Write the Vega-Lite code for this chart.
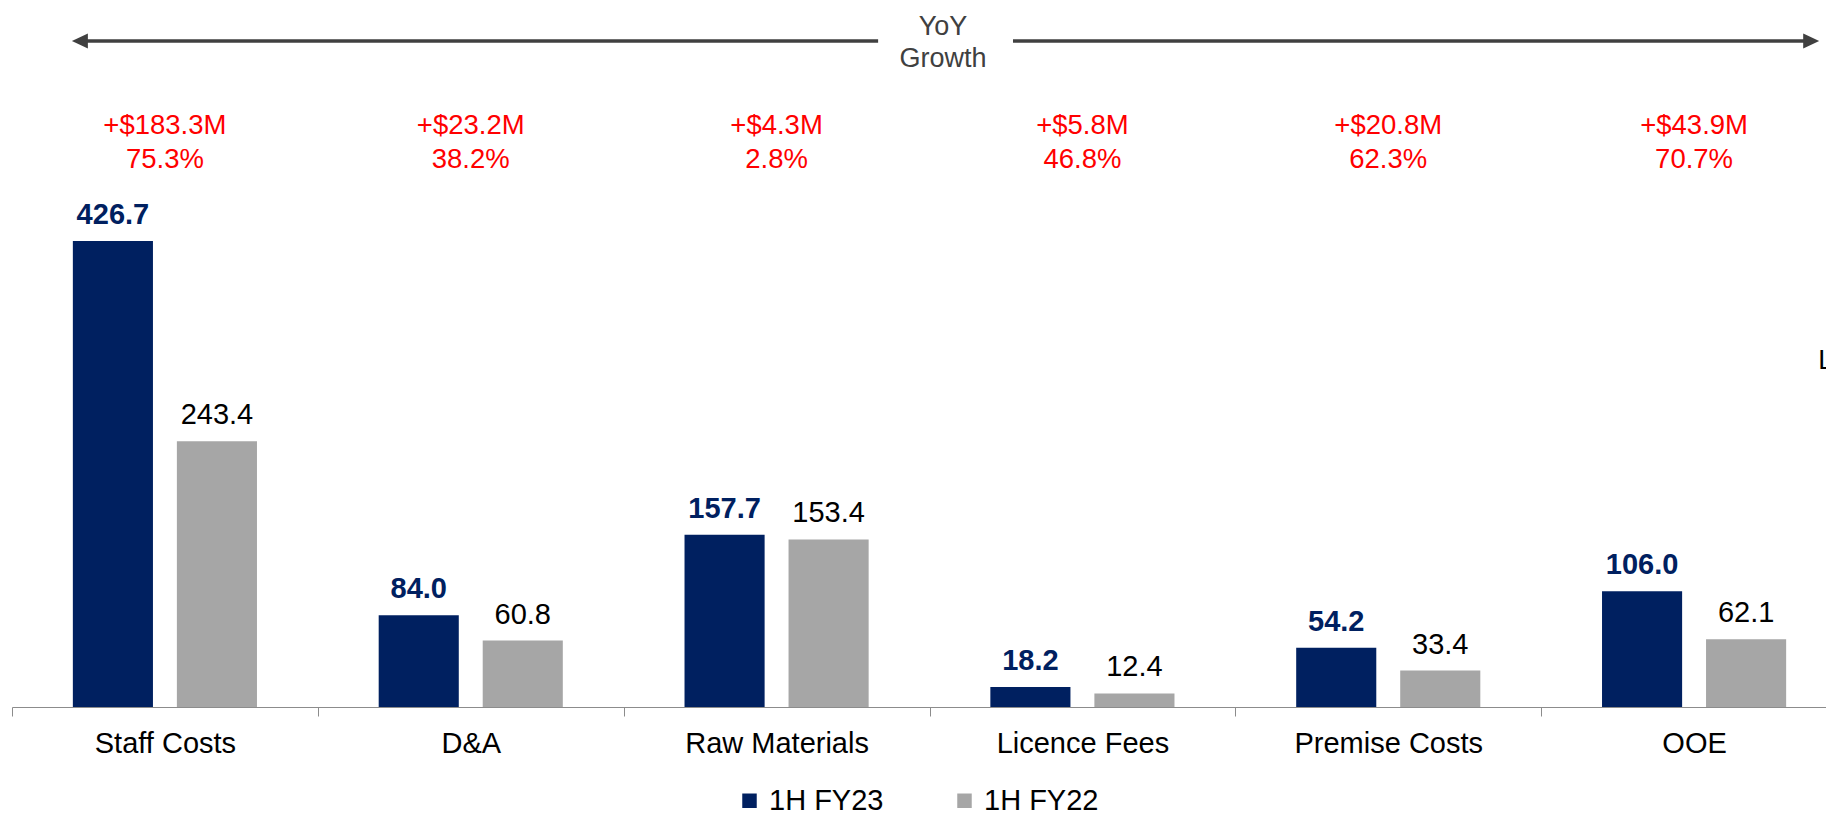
{
  "$schema": "https://vega.github.io/schema/vega-lite/v6.json",
  "width": 1814,
  "height": 707,
  "autosize": {"type": "none"},
  "padding": {"left": 12, "top": 0, "right": 0, "bottom": 108},
  "background": "#ffffff",
  "config": {
    "view": {"stroke": null},
    "font": "Liberation Sans",
    "text": {"font": "Liberation Sans"}
  },
  "datasets": {
    "bars": [
      {"category": "Staff Costs", "period": "1H FY23", "value": 426.7},
      {"category": "Staff Costs", "period": "1H FY22", "value": 243.4},
      {"category": "D&A", "period": "1H FY23", "value": 84.0},
      {"category": "D&A", "period": "1H FY22", "value": 60.8},
      {"category": "Raw Materials", "period": "1H FY23", "value": 157.7},
      {"category": "Raw Materials", "period": "1H FY22", "value": 153.4},
      {"category": "Licence Fees", "period": "1H FY23", "value": 18.2},
      {"category": "Licence Fees", "period": "1H FY22", "value": 12.4},
      {"category": "Premise Costs", "period": "1H FY23", "value": 54.2},
      {"category": "Premise Costs", "period": "1H FY22", "value": 33.4},
      {"category": "OOE", "period": "1H FY23", "value": 106.0},
      {"category": "OOE", "period": "1H FY22", "value": 62.1}
    ],
    "growth": [
      {"category": "Staff Costs", "abs": "+$183.3M", "pct": "75.3%"},
      {"category": "D&A", "abs": "+$23.2M", "pct": "38.2%"},
      {"category": "Raw Materials", "abs": "+$4.3M", "pct": "2.8%"},
      {"category": "Licence Fees", "abs": "+$5.8M", "pct": "46.8%"},
      {"category": "Premise Costs", "abs": "+$20.8M", "pct": "62.3%"},
      {"category": "OOE", "abs": "+$43.9M", "pct": "70.7%"}
    ]
  },
  "layer": [
    {
      "layer": [
        {
          "data": {"name": "bars"},
          "mark": {"type": "bar"},
          "encoding": {
            "x": {
              "field": "category", "type": "nominal",
              "sort": ["Staff Costs", "D&A", "Raw Materials", "Licence Fees", "Premise Costs", "OOE"],
              "scale": {"range": [0, 1835], "paddingInner": 0, "paddingOuter": 0},
              "axis": {
                "title": null, "tickBand": "extent", "labelAngle": 0,
                "labelFontSize": 29, "labelFont": "Liberation Sans", "labelColor": "#000000",
                "labelLimit": 0,
                "tickSize": 9, "tickColor": "#8c8c8c", "domainColor": "#8c8c8c",
                "labelPadding": 13, "grid": false
              }
            },
            "xOffset": {
              "field": "period", "type": "nominal", "sort": ["1H FY23", "1H FY22"],
              "scale": {"paddingInner": 0.23, "paddingOuter": 0.585}
            },
            "y": {
              "field": "value", "type": "quantitative",
              "scale": {"domain": [0, 647.4], "nice": false, "zero": true},
              "axis": null
            },
            "color": {
              "field": "period", "type": "nominal",
              "scale": {"domain": ["1H FY23", "1H FY22"], "range": ["#002060", "#A6A6A6"]},
              "legend": {
                "title": null, "orient": "none", "direction": "horizontal",
                "legendX": 723, "legendY": 786,
                "symbolType": "square", "symbolSize": 210, "symbolStrokeWidth": 0,
                "labelFontSize": 29, "labelFont": "Liberation Sans", "labelColor": "#000000",
                "labelOffset": 5, "columnPadding": 66, "padding": 0, "labelLimit": 0
              }
            }
          }
        },
        {
          "data": {"name": "bars"},
          "transform": [{"filter": "datum.period === '1H FY23'"}],
          "mark": {"type": "text", "fontSize": 29, "fontWeight": "bold", "color": "#002060", "baseline": "alphabetic", "dy": -17},
          "encoding": {
            "x": {"field": "category", "type": "nominal", "sort": ["Staff Costs", "D&A", "Raw Materials", "Licence Fees", "Premise Costs", "OOE"]},
            "xOffset": {"field": "period", "type": "nominal", "sort": ["1H FY23", "1H FY22"]},
            "y": {"field": "value", "type": "quantitative"},
            "text": {"field": "value", "type": "quantitative", "format": ".1f"}
          }
        },
        {
          "data": {"name": "bars"},
          "transform": [{"filter": "datum.period === '1H FY22'"}],
          "mark": {"type": "text", "fontSize": 29, "color": "#000000", "baseline": "alphabetic", "dy": -17},
          "encoding": {
            "x": {"field": "category", "type": "nominal", "sort": ["Staff Costs", "D&A", "Raw Materials", "Licence Fees", "Premise Costs", "OOE"]},
            "xOffset": {"field": "period", "type": "nominal", "sort": ["1H FY23", "1H FY22"]},
            "y": {"field": "value", "type": "quantitative"},
            "text": {"field": "value", "type": "quantitative", "format": ".1f"}
          }
        },
        {
          "data": {"name": "growth"},
          "mark": {"type": "text", "fontSize": 27.5, "color": "#FF0000", "baseline": "alphabetic"},
          "encoding": {
            "x": {"field": "category", "type": "nominal", "sort": ["Staff Costs", "D&A", "Raw Materials", "Licence Fees", "Premise Costs", "OOE"]},
            "y": {"datum": 524.7, "type": "quantitative"},
            "text": {"field": "abs"}
          }
        },
        {
          "data": {"name": "growth"},
          "mark": {"type": "text", "fontSize": 27.5, "color": "#FF0000", "baseline": "alphabetic"},
          "encoding": {
            "x": {"field": "category", "type": "nominal", "sort": ["Staff Costs", "D&A", "Raw Materials", "Licence Fees", "Premise Costs", "OOE"]},
            "y": {"datum": 493.6, "type": "quantitative"},
            "text": {"field": "pct"}
          }
        }
      ]
    },
    {
      "data": {"values": [{}]},
      "layer": [
        {
          "mark": {"type": "rule", "color": "#404040", "strokeWidth": 3.5},
          "encoding": {
            "x": {"datum": 0.222, "type": "quantitative", "scale": {"domain": [0, 6], "range": [0, 1835], "nice": false, "zero": false}, "axis": null},
            "x2": {"datum": 2.832},
            "y": {"datum": 609.8, "type": "quantitative"}
          }
        },
        {
          "mark": {"type": "rule", "color": "#404040", "strokeWidth": 3.5},
          "encoding": {
            "x": {"datum": 3.273, "type": "quantitative"},
            "x2": {"datum": 5.883},
            "y": {"datum": 609.8, "type": "quantitative"}
          }
        },
        {
          "mark": {"type": "point", "filled": true, "color": "#404040", "opacity": 1, "size": 256, "shape": "M 1 0 L -1 -0.94 L -1 0.94 Z"},
          "encoding": {
            "x": {"datum": 5.883, "type": "quantitative"},
            "y": {"datum": 609.8, "type": "quantitative"}
          }
        },
        {
          "mark": {"type": "point", "filled": true, "color": "#404040", "opacity": 1, "size": 256, "shape": "M -1 0 L 1 -0.94 L 1 0.94 Z"},
          "encoding": {
            "x": {"datum": 0.222, "type": "quantitative"},
            "y": {"datum": 609.8, "type": "quantitative"}
          }
        },
        {
          "mark": {"type": "text", "fontSize": 27, "color": "#404040", "baseline": "alphabetic", "align": "center"},
          "encoding": {
            "x": {"datum": 3.044, "type": "quantitative"},
            "y": {"datum": 615.3, "type": "quantitative"},
            "text": {"value": "YoY"}
          }
        },
        {
          "mark": {"type": "text", "fontSize": 27, "color": "#404040", "baseline": "alphabetic", "align": "center"},
          "encoding": {
            "x": {"datum": 3.044, "type": "quantitative"},
            "y": {"datum": 586.0, "type": "quantitative"},
            "text": {"value": "Growth"}
          }
        },
        {
          "mark": {"type": "text", "fontSize": 27, "color": "#000000", "baseline": "alphabetic", "align": "left"},
          "encoding": {
            "x": {"datum": 5.906, "type": "quantitative"},
            "y": {"datum": 309.5, "type": "quantitative"},
            "text": {"value": "L"}
          }
        }
      ]
    }
  ],
  "resolve": {"scale": {"x": "independent"}}
}
